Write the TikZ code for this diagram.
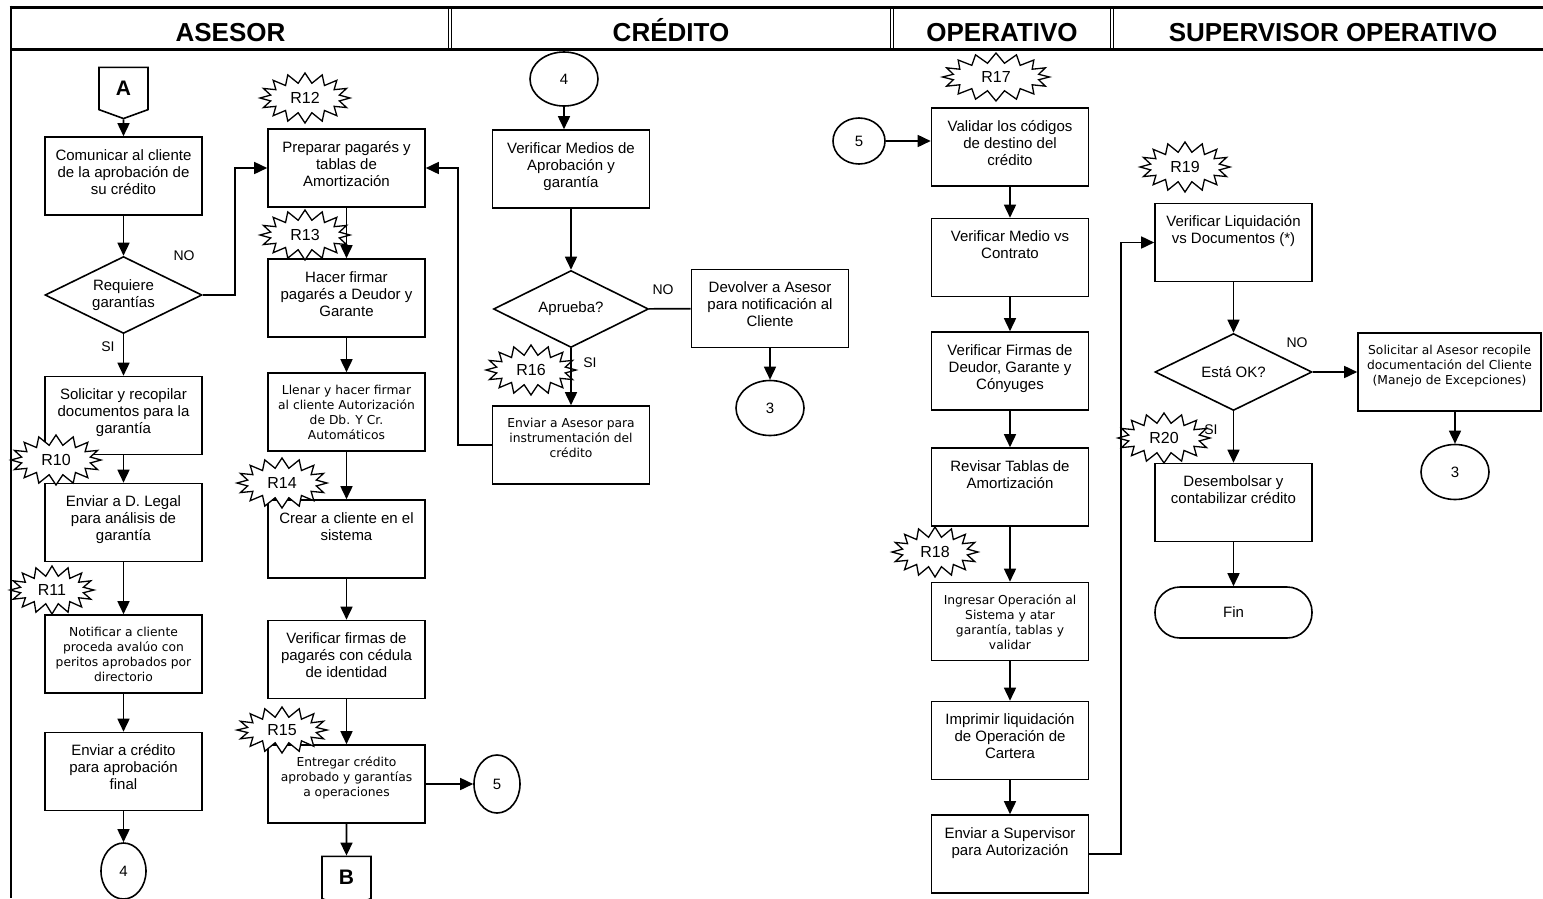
\documentclass[tikz,border=0pt]{standalone}
\usepackage{fontspec}
\setmainfont{Liberation Sans}
\newfontfamily\tahoma{DejaVu Sans}
\usetikzlibrary{arrows.meta}
\usetikzlibrary{shapes.geometric, shapes.symbols}

\begin{document}
\begin{tikzpicture}[x=1pt,y=-1pt,
  flow/.style={line width=1.6pt,-{Triangle[length=13pt,width=12pt]}},
  plain/.style={line width=1.6pt},
  box/.style={draw,line width=1.6pt,text width=137pt,align=flush center,inner xsep=10pt,
    inner ysep=0pt,text height=23pt,text depth=55pt,font=\fontsize{15}{17}\selectfont},
  tbox/.style={box,text height=21.5pt,text depth=56.5pt,font=\tahoma\fontsize{12.3}{15}\selectfont},
  decision/.style={diamond,draw,line width=1.6pt,minimum width=157pt,minimum height=77pt,
    shape aspect=2,inner sep=0pt,align=flush center,font=\fontsize{15}{17}\selectfont},
  conn/.style={ellipse,draw,line width=1.6pt,minimum width=68pt,minimum height=54pt,
    inner sep=0pt,font=\fontsize{15}{17}\selectfont},
  offpage/.style={signal,signal to=south,signal pointer angle=140,draw,line width=1.6pt,
    minimum width=49pt,minimum height=45pt,inner sep=0pt,font=\bfseries\fontsize{21}{21}\selectfont},
  burst/.style={starburst,starburst points=16,starburst point height=10pt,random starburst=0,
    draw,line width=1.3pt,fill=white,inner sep=0pt,minimum width=90pt,minimum height=50pt,
    font=\fontsize{16}{16}\selectfont},
  lane/.style={anchor=base,font=\bfseries\fontsize{26}{26}\selectfont},
  tag/.style={font=\fontsize{14}{14}\selectfont}]

\useasboundingbox (0,0) rectangle (1543,898);

% lanes
\draw[line width=3pt] (9.5,7) -- (1543,7);
\draw[line width=3pt] (11,49) -- (1543,49);
\draw[line width=2pt] (11,5.5) -- (11,898);
\foreach \xd in {450,892,1112}
  \draw[line width=1pt] (\xd-1.3,7) -- (\xd-1.3,49) (\xd+1.3,7) -- (\xd+1.3,49);
\node[lane] (hase) at (230.5,41.5) {ASESOR};
\node[lane] (hcre) at (671,41.5) {CRÉDITO};
\node[lane] (hope) at (1002,41.5) {OPERATIVO};
\node[lane] (hsup) at (1333,41.5) {SUPERVISOR OPERATIVO};

% asesor
\node[offpage] (A) at (123.5,88.5) {A};
\node[box] (com) at (123.5,176) {Comunicar al cliente de la aprobación de su crédito};
\node[decision] (req) at (123.5,295) {Requiere\\garantías};
\node[box] (sol) at (123.5,415.5) {Solicitar y recopilar documentos para la garantía};
\node[box] (leg) at (123.5,522.5) {Enviar a D. Legal para análisis de garantía};
\node[tbox] (notif) at (123.5,654) {Notificar a cliente proceda avalúo con peritos aprobados por directorio};
\node[box] (envc) at (123.5,771.5) {Enviar a crédito\\para aprobación final};
\node[conn,minimum width=45pt,minimum height=56pt] (c4b) at (123.5,871) {4};

\node[box] (prep) at (346.5,168) {Preparar pagarés y tablas de Amortización};
\node[box] (hacer) at (346.5,298) {Hacer firmar pagarés a Deudor y Garante};
\node[tbox] (llen) at (346.5,412) {Llenar y hacer firmar al cliente Autorización de Db. Y Cr. Automáticos};
\node[box] (crear) at (346.5,539) {Crear a cliente en el sistema};
\node[box] (vfir) at (346.5,659.5) {Verificar firmas de pagarés con cédula de identidad};
\node[tbox] (entr) at (346.5,784) {Entregar crédito aprobado y garantías a operaciones};
\node[offpage] (B) at (346.5,877.5) {B};
\node[conn,minimum width=46pt,minimum height=58pt] (c5b) at (497,784) {5};

% credito
\node[conn] (c4) at (564,79) {4};
\node[box] (vmed) at (571,169) {Verificar Medios de Aprobación y garantía};
\node[decision,minimum width=155pt] (apr) at (571,309) {Aprueba?};
\node[box] (devol) at (770,308.5) {Devolver a Asesor para notificación al Cliente};
\node[conn,minimum height=55pt] (c3a) at (770,408) {3};
\node[tbox] (envas) at (571,445) {Enviar a Asesor para instrumentación del crédito};

% operativo
\node[conn,minimum width=52pt,minimum height=46pt] (c5) at (859,141) {5};
\node[box] (valid) at (1010,147) {Validar los códigos de destino del crédito};
\node[box] (vmvs) at (1010,257.5) {Verificar Medio vs Contrato};
\node[box] (vfdg) at (1010,371) {Verificar Firmas de Deudor, Garante y Cónyuges};
\node[box] (revis) at (1010,487) {Revisar Tablas de Amortización};
\node[tbox] (ingr) at (1010,621.5) {Ingresar Operación al Sistema y atar garantía, tablas y validar};
\node[box] (impr) at (1010,740.5) {Imprimir liquidación de Operación de Cartera};
\node[box] (envsup) at (1010,854) {Enviar a Supervisor para Autorización};

% supervisor
\node[box] (vliq) at (1233.5,242.5) {Verificar Liquidación vs Documentos (*)};
\node[decision] (ok) at (1233.5,372) {Está OK?};
\node[tbox,text width=170pt,inner xsep=6.5pt] (solic) at (1449.5,372) {Solicitar al Asesor recopile documentación del Cliente (Manejo de Excepciones)};
\node[conn,minimum height=55pt] (c3b) at (1455,472) {3};
\node[box] (desem) at (1233.5,502.5) {Desembolsar y contabilizar crédito};
\node[draw,line width=1.6pt,rounded corners=25pt,minimum width=157pt,minimum height=51pt,
  font=\fontsize{15}{17}\selectfont] (fin) at (1233.5,612.5) {Fin};

% riesgos
\node[burst] (r10) at (56,460) {R10};
\node[burst,minimum width=84pt,minimum height=48pt] (r11) at (52,590) {R11};
\node[burst] (r12) at (305,98) {R12};
\node[burst] (r13) at (305,235) {R13};
\node[burst] (r14) at (282,483) {R14};
\node[burst,minimum height=46pt] (r15) at (282,730) {R15};
\node[burst] (r16) at (531,370) {R16};
\node[burst,minimum width=107pt,minimum height=48pt] (r17) at (996,77) {R17};
\node[burst,minimum width=86pt] (r18) at (935,552) {R18};
\node[burst] (r19) at (1185,167) {R19};
\node[burst,minimum width=92pt] (r20) at (1164,438) {R20};

% flechas
\coordinate (noreq) at (235,295);
\coordinate (back) at (458,445);
\coordinate (upsup) at (1121,854);
\draw[flow] (A) -- (com);
\draw[flow] (com) -- (req);
\draw[flow] (req.east) -- (noreq) |- (prep.west);
\draw[flow] (req) -- (sol);
\draw[flow] (sol) -- (leg);
\draw[flow] (leg) -- (notif);
\draw[flow] (notif) -- (envc);
\draw[flow] (envc) -- (c4b);
\draw[flow] (prep) -- (hacer);
\draw[flow] (hacer) -- (llen);
\draw[flow] (llen) -- (crear);
\draw[flow] (crear) -- (vfir);
\draw[flow] (vfir) -- (entr);
\draw[flow] (entr) -- (B);
\draw[flow] (entr) -- (c5b);
\draw[flow] (c4) -- (c4 |- vmed.north);
\draw[flow] (vmed) -- (apr);
\draw[plain] (apr) -- (devol);
\draw[flow] (devol) -- (c3a);
\draw[flow] (apr) -- (envas);
\draw[flow] (envas.west) -- (back) |- (prep.east);
\draw[flow] (c5) -- (c5 -| valid.west);
\draw[flow] (valid) -- (vmvs);
\draw[flow] (vmvs) -- (vfdg);
\draw[flow] (vfdg) -- (revis);
\draw[flow] (revis) -- (ingr);
\draw[flow] (ingr) -- (impr);
\draw[flow] (impr) -- (envsup);
\draw[flow] (envsup.east) -- (upsup) |- (vliq.west);
\draw[flow] (vliq) -- (ok);
\draw[flow] (ok) -- (solic);
\draw[flow] (c3b |- solic.south) -- (c3b);
\draw[flow] (ok) -- (desem);
\draw[flow] (desem) -- (fin);

\node[tag] (no1) at (184,256) {NO};
\node[tag] (si1) at (108,347) {SI};
\node[tag] (no2) at (663,290) {NO};
\node[tag] (si2) at (590,363) {SI};
\node[tag] (no3) at (1297,343) {NO};
\node[tag] (si3) at (1211,430) {SI};
\end{tikzpicture}
\end{document}
